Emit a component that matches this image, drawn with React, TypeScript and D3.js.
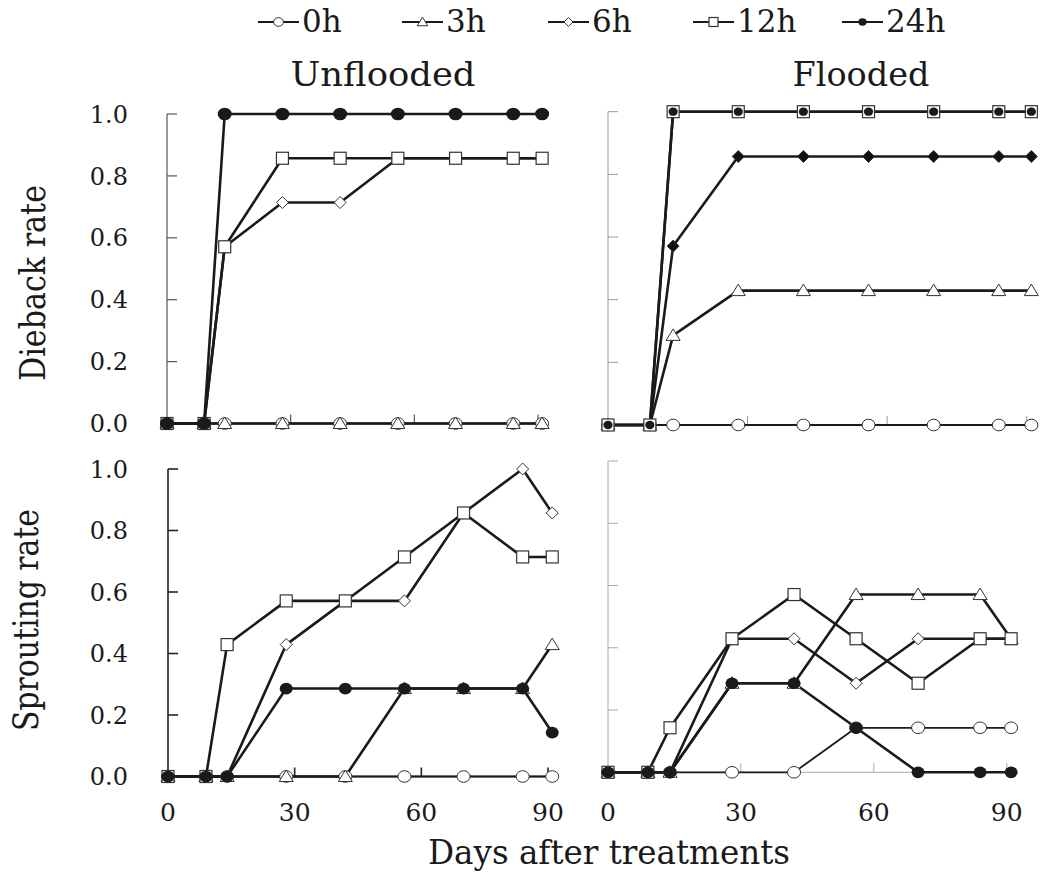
import React from "react";
import * as d3 from "d3";

// ---------- DATA ----------
const days = [0, 9, 14, 28, 42, 56, 70, 84, 91];
const seriesNames = ["0h", "3h", "6h", "12h", "24h"];
const xTicks = [0, 30, 60, 90];
const yTicks = [0, 0.2, 0.4, 0.6, 0.8, 1.0];
const yTickLabels = ["0.0", "0.2", "0.4", "0.6", "0.8", "1.0"];

// Dieback rate, unflooded
const diebackUnflooded0h = [0, 0, 0, 0, 0, 0, 0, 0, 0];
const diebackUnflooded3h = [0, 0, 0, 0, 0, 0, 0, 0, 0];
const diebackUnflooded6h = [0, 0, 0.571, 0.714, 0.714, 0.857, 0.857, 0.857, 0.857];
const diebackUnflooded12h = [0, 0, 0.571, 0.857, 0.857, 0.857, 0.857, 0.857, 0.857];
const diebackUnflooded24h = [0, 0, 1, 1, 1, 1, 1, 1, 1];

// Dieback rate, flooded
const diebackFlooded0h = [0, 0, 0, 0, 0, 0, 0, 0, 0];
const diebackFlooded3h = [0, 0, 0.286, 0.429, 0.429, 0.429, 0.429, 0.429, 0.429];
const diebackFlooded6h = [0, 0, 0.571, 0.857, 0.857, 0.857, 0.857, 0.857, 0.857];
const diebackFlooded12h = [0, 0, 1, 1, 1, 1, 1, 1, 1];
const diebackFlooded24h = [0, 0, 1, 1, 1, 1, 1, 1, 1];

// Sprouting rate, unflooded
const sproutUnflooded0h = [0, 0, 0, 0, 0, 0, 0, 0, 0];
const sproutUnflooded3h = [0, 0, 0, 0, 0, 0.286, 0.286, 0.286, 0.429];
const sproutUnflooded6h = [0, 0, 0, 0.429, 0.571, 0.571, 0.857, 1.0, 0.857];
const sproutUnflooded12h = [0, 0, 0.429, 0.571, 0.571, 0.714, 0.857, 0.714, 0.714];
const sproutUnflooded24h = [0, 0, 0, 0.286, 0.286, 0.286, 0.286, 0.286, 0.143];

// Sprouting rate, flooded
const sproutFlooded0h = [0, 0, 0, 0, 0, 0.143, 0.143, 0.143, 0.143];
const sproutFlooded3h = [0, 0, 0, 0.286, 0.286, 0.571, 0.571, 0.571, 0.429];
const sproutFlooded6h = [0, 0, 0, 0.429, 0.429, 0.286, 0.429, 0.429, 0.429];
const sproutFlooded12h = [0, 0, 0.143, 0.429, 0.571, 0.429, 0.286, 0.429, 0.429];
const sproutFlooded24h = [0, 0, 0, 0.286, 0.286, 0.143, 0, 0, 0];

// ---------- LAYOUT ----------
type Panel = {
  series: number[][];
  x0: number; x90: number; yTop: number; yBot: number;
  axisColor: string; axisWidth: number;
  showYLabels: boolean;
  diamondFill: string; dotR: number;
};

const panels: Panel[] = [
  { series: [diebackUnflooded0h, diebackUnflooded3h, diebackUnflooded6h, diebackUnflooded12h, diebackUnflooded24h],
    x0: 167, x90: 538, yTop: 114, yBot: 423.5, axisColor: "#555", axisWidth: 1.2, showYLabels: true, diamondFill: "#fff", dotR: 7 },
  { series: [diebackFlooded0h, diebackFlooded3h, diebackFlooded6h, diebackFlooded12h, diebackFlooded24h],
    x0: 608, x90: 1026.7, yTop: 111.7, yBot: 425, axisColor: "#999", axisWidth: 1, showYLabels: false, diamondFill: "#111", dotR: 4.6 },
  { series: [sproutUnflooded0h, sproutUnflooded3h, sproutUnflooded6h, sproutUnflooded12h, sproutUnflooded24h],
    x0: 168, x90: 548, yTop: 469, yBot: 776.5, axisColor: "#222", axisWidth: 1.6, showYLabels: true, diamondFill: "#fff", dotR: 6.5 },
  { series: [sproutFlooded0h, sproutFlooded3h, sproutFlooded6h, sproutFlooded12h, sproutFlooded24h],
    x0: 608, x90: 1006.7, yTop: 461, yBot: 772.3, axisColor: "#aaa", axisWidth: 1, showYLabels: false, diamondFill: "#fff", dotR: 6.5 },
];

const FONT = "'DejaVu Serif', serif";
const INK = "#1a1a1a";

function Marker({ kind, x, y, diamondFill, dotR, scale = 1 }:
  { kind: string; x: number; y: number; diamondFill: string; dotR: number; scale?: number }) {
  const s = scale;
  if (kind === "0h") return <ellipse cx={x} cy={y} rx={6.5 * s} ry={5.8 * s} fill="#fff" stroke="#333" strokeWidth={1} />;
  if (kind === "3h") {
    const p = `M${x},${y - 6.5 * s}L${x + 7 * s},${y + 5 * s}L${x - 7 * s},${y + 5 * s}Z`;
    return <path d={p} fill="#fff" stroke="#333" strokeWidth={1} />;
  }
  if (kind === "6h") {
    const p = `M${x},${y - 6 * s}L${x + 6 * s},${y}L${x},${y + 6 * s}L${x - 6 * s},${y}Z`;
    return <path d={p} fill={diamondFill} stroke="#333" strokeWidth={1} />;
  }
  if (kind === "12h") return <rect x={x - 6 * s} y={y - 6 * s} width={12 * s} height={12 * s} fill="#fff" stroke="#333" strokeWidth={1.2} />;
  return <ellipse cx={x} cy={y} rx={dotR * s} ry={dotR * 0.9 * s} fill={INK} />;
}

function PanelView({ p }: { p: Panel }) {
  const x = d3.scaleLinear().domain([0, 90]).range([p.x0, p.x90]);
  const y = d3.scaleLinear().domain([0, 1]).range([p.yBot, p.yTop]);
  const line = d3.line<[number, number]>().x(d => x(d[0])).y(d => y(d[1]));
  return (
    <g>
      {/* axes */}
      <line x1={p.x0} x2={p.x0} y1={p.yTop} y2={p.yBot} stroke={p.axisColor} strokeWidth={p.axisWidth} />
      <line x1={p.x0} x2={x(92)} y1={p.yBot} y2={p.yBot} stroke={p.axisColor} strokeWidth={p.axisWidth} />
      {yTicks.slice(1).map(t => (
        <line key={"yt" + t} x1={p.x0} x2={p.x0 + 10} y1={y(t)} y2={y(t)} stroke={p.axisColor} strokeWidth={p.axisWidth} />
      ))}
      {xTicks.slice(1).map(t => (
        <line key={"xt" + t} x1={x(t)} x2={x(t)} y1={p.yBot} y2={p.yBot - 9} stroke={p.axisColor} strokeWidth={p.axisWidth} />
      ))}
      {p.showYLabels && yTicks.map((t, i) => (
        <text key={"yl" + t} x={128} y={y(t)} dy="0.36em" textAnchor="end" fontFamily={FONT} fontSize={24} fill={INK}>{yTickLabels[i]}</text>
      ))}
      {/* lines */}
      {p.series.map((vals, si) => (
        <path key={"l" + si} d={line(days.map((d, i) => [d, vals[i]] as [number, number])) || ""}
          fill="none" stroke={INK} strokeWidth={si === 0 ? 1.8 : 2.6} strokeLinejoin="round" />
      ))}
      {/* markers */}
      {p.series.map((vals, si) => (
        <g key={"m" + si}>
          {days.map((d, i) => (
            <Marker key={i} kind={seriesNames[si]} x={x(d)} y={y(vals[i])} diamondFill={p.diamondFill} dotR={p.dotR} />
          ))}
        </g>
      ))}
    </g>
  );
}

function XLabels({ x0, x90 }: { x0: number; x90: number }) {
  const x = d3.scaleLinear().domain([0, 90]).range([x0, x90]);
  return (
    <g>
      {xTicks.map(t => (
        <text key={t} x={x(t)} y={821} textAnchor="middle" fontFamily={FONT} fontSize={25} fill={INK}>{t}</text>
      ))}
    </g>
  );
}

const legendX = [258, 402, 548, 693, 842];

export default function App() {
  return (
    <svg width={1043} height={875} style={{ position: "absolute", left: 0, top: 0, background: "#fff" }}>
      <rect width={1043} height={875} fill="#fff" />
      {/* legend */}
      {seriesNames.map((n, i) => (
        <g key={n}>
          <line x1={legendX[i]} x2={legendX[i] + 41} y1={22} y2={22} stroke={INK} strokeWidth={2.2} />
          <Marker kind={n} x={legendX[i] + 20.5} y={22} diamondFill="#fff" dotR={5.5} scale={0.75} />
          <text x={legendX[i] + 44} y={32} fontFamily={FONT} fontSize={31} fill={INK}>{n}</text>
        </g>
      ))}
      {/* titles */}
      <text x={383} y={86} textAnchor="middle" fontFamily={FONT} fontSize={34} fill={INK} textLength={185} lengthAdjust="spacingAndGlyphs">Unflooded</text>
      <text x={861} y={86} textAnchor="middle" fontFamily={FONT} fontSize={34} fill={INK} textLength={137} lengthAdjust="spacingAndGlyphs">Flooded</text>
      <text transform="translate(45,283) rotate(-90)" textAnchor="middle" fontFamily={FONT} fontSize={36} fill={INK} textLength={196} lengthAdjust="spacingAndGlyphs">Dieback rate</text>
      <text transform="translate(38,620) rotate(-90)" textAnchor="middle" fontFamily={FONT} fontSize={36} fill={INK} textLength={222} lengthAdjust="spacingAndGlyphs">Sprouting rate</text>
      <text x={609} y={864} textAnchor="middle" fontFamily={FONT} fontSize={34} fill={INK} textLength={362} lengthAdjust="spacingAndGlyphs">Days after treatments</text>
      {panels.map((p, i) => <PanelView key={i} p={p} />)}
      <XLabels x0={168} x90={548} />
      <XLabels x0={608} x90={1006.7} />
    </svg>
  );
}
